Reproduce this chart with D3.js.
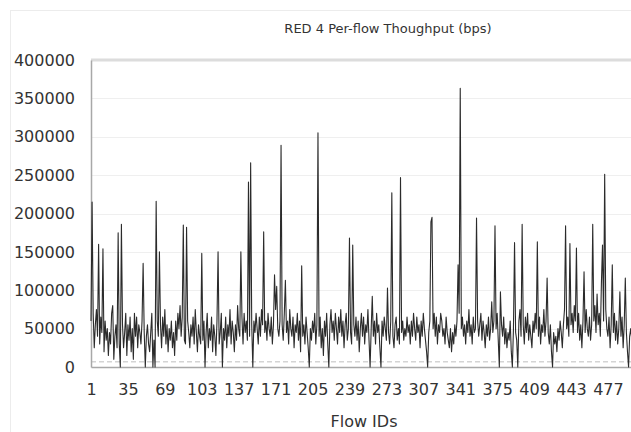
<!DOCTYPE html>
<html><head><meta charset="utf-8">
<script src="https://cdn.jsdelivr.net/npm/d3@7"></script>
<style>
html,body{margin:0;padding:0;background:#fff;}
svg{display:block;font-family:"DejaVu Sans",sans-serif;}
</style></head>
<body>
<svg id="chart" width="631" height="432"></svg>
<script>
const title = "RED 4 Per-flow Thoughput (bps)";
const xAxisTitle = "Flow IDs";
const yTicks = [0,50000,100000,150000,200000,250000,300000,350000,400000];
const xTickLabels = [1,35,69,103,137,171,205,239,273,307,341,375,409,443,477];
const flowCount = 500;
const lowLineValue = 7000;
const throughput = [
60000,215000,70000,25000,55000,75000,40000,160000,30000,65000,45000,154000,20000,60000,35000,50000,15000,45000,30000,70000,80000,10000,40000,55000,25000,
175000,30000,0,186000,55000,25000,45000,70000,15000,55000,35000,65000,20000,50000,10000,70000,40000,65000,25000,55000,45000,30000,60000,135000,45000,
0,40000,55000,30000,20000,45000,70000,0,35000,0,216000,60000,40000,150000,55000,25000,65000,40000,75000,30000,55000,20000,50000,35000,60000,
25000,45000,15000,60000,35000,70000,50000,80000,40000,65000,185000,35000,30000,182000,60000,45000,25000,55000,40000,65000,30000,75000,45000,20000,55000,
40000,30000,148000,35000,60000,0,45000,70000,25000,50000,35000,65000,20000,55000,40000,15000,60000,150000,30000,45000,70000,0,50000,35000,65000,
25000,55000,40000,75000,30000,60000,45000,20000,55000,35000,80000,50000,40000,150000,65000,30000,70000,45000,60000,35000,241000,40000,266000,55000,0,
60000,45000,70000,50000,30000,65000,40000,75000,55000,176000,45000,60000,35000,70000,50000,40000,65000,30000,55000,120000,75000,105000,50000,40000,60000,
289000,55000,35000,70000,113000,45000,60000,30000,75000,50000,40000,65000,25000,55000,45000,70000,35000,60000,20000,132000,40000,55000,30000,65000,45000,
25000,0,50000,35000,60000,45000,70000,30000,55000,305000,40000,65000,25000,50000,15000,60000,40000,70000,30000,0,55000,75000,45000,60000,35000,
70000,50000,30000,65000,45000,75000,40000,60000,25000,55000,70000,35000,50000,168000,45000,30000,159000,55000,40000,65000,35000,60000,20000,50000,70000,
40000,65000,30000,55000,45000,75000,35000,0,50000,92000,40000,60000,30000,70000,45000,55000,25000,0,60000,40000,65000,50000,35000,103000,45000,
30000,60000,227000,40000,25000,55000,65000,35000,50000,30000,247000,45000,60000,35000,50000,40000,65000,45000,55000,30000,60000,40000,70000,50000,35000,
65000,45000,55000,25000,60000,40000,70000,50000,35000,20000,0,45000,60000,189000,195000,50000,70000,40000,65000,30000,55000,45000,70000,60000,40000,
50000,30000,65000,45000,35000,25000,50000,20000,45000,30000,55000,40000,60000,133000,70000,363000,50000,65000,40000,55000,30000,60000,45000,75000,40000,
55000,30000,65000,45000,50000,194000,60000,40000,55000,70000,35000,60000,45000,25000,55000,40000,65000,35000,50000,85000,45000,60000,184000,50000,70000,
35000,0,98000,55000,40000,65000,30000,50000,25000,45000,35000,60000,20000,0,50000,162000,45000,35000,0,60000,75000,40000,186000,55000,30000,
65000,45000,70000,35000,55000,40000,25000,60000,45000,70000,50000,163000,40000,65000,30000,55000,45000,75000,40000,60000,116000,45000,30000,55000,20000,
0,45000,30000,40000,20000,50000,35000,60000,45000,25000,55000,75000,184000,50000,65000,40000,161000,55000,70000,45000,80000,60000,155000,45000,70000,
35000,55000,25000,60000,124000,45000,75000,50000,40000,65000,35000,55000,186000,60000,80000,45000,95000,55000,70000,40000,110000,159000,60000,251000,75000,
50000,40000,65000,25000,55000,133000,45000,70000,35000,60000,30000,50000,98000,40000,65000,25000,55000,116000,45000,20000,0,40000,50000,35000,55000
];
const flows = d3.range(1, flowCount + 1);

const svg = d3.select("#chart");
const W = 631, H = 432;
const plotLeft = 91, plotTop = 60, plotBottom = 367;
const pxPerFlow = 1.086;
const plotRight = plotLeft + (flowCount - 1) * pxPerFlow;

const x = d3.scaleLinear().domain([1, flowCount]).range([plotLeft, plotRight]);
const y = d3.scaleLinear().domain([0, 400000]).range([plotBottom, plotTop]);

// chart area border
svg.append("rect").attr("x", 10.5).attr("y", 10.5).attr("width", W + 20).attr("height", H + 20)
  .attr("fill", "none").attr("stroke", "#ececec");

// title
svg.append("text").attr("x", 388).attr("y", 33).attr("text-anchor", "middle")
  .attr("font-size", 13).attr("fill", "#333").text(title);

// gridlines
svg.append("g").selectAll("line").data(yTicks.filter(d => d > 0 && d < 400000)).join("line")
  .attr("x1", plotLeft).attr("x2", W).attr("y1", d => Math.round(y(d)) + 0.5).attr("y2", d => Math.round(y(d)) + 0.5)
  .attr("stroke", "#efefef");
svg.append("line").attr("x1", plotLeft).attr("x2", W).attr("y1", y(400000)).attr("y2", y(400000))
  .attr("stroke", "#dcdcdc").attr("stroke-width", 3);

// low dashed line
svg.append("line").attr("x1", plotLeft).attr("x2", W)
  .attr("y1", y(lowLineValue)).attr("y2", y(lowLineValue))
  .attr("stroke", "#d4d4d4").attr("stroke-width", 1.5).attr("stroke-dasharray", "5,3");

// y axis
const yAxis = d3.axisLeft(y).tickValues(yTicks).tickSize(0).tickPadding(16).tickFormat(d3.format("d"));
const gy = svg.append("g").attr("transform", `translate(${plotLeft},0)`).call(yAxis);
gy.select(".domain").attr("stroke", "#a8a8a8").attr("stroke-width", 1.5);
gy.selectAll("text").attr("font-size", 16).attr("fill", "#333").attr("font-family", "DejaVu Sans");

// x axis
const xAxis = d3.axisBottom(x).tickValues(xTickLabels).tickSize(0).tickPadding(17).tickFormat(d3.format("d"));
const gx = svg.append("g").attr("transform", `translate(0,${plotBottom})`).call(xAxis);
gx.select(".domain").attr("stroke", "#a8a8a8").attr("stroke-width", 1.5);
gx.selectAll("text").attr("font-size", 16).attr("fill", "#333").attr("font-family", "DejaVu Sans");

// x axis title
svg.append("text").attr("x", 364).attr("y", 427).attr("text-anchor", "middle")
  .attr("font-size", 16).attr("fill", "#333").text(xAxisTitle);

// data line
const line = d3.line().x((d, i) => x(flows[i])).y(d => y(d));
svg.append("path").datum(throughput).attr("d", line)
  .attr("fill", "none").attr("stroke", "#2b2b2b").attr("stroke-width", 1.1).attr("stroke-linejoin", "round");
</script>
</body></html>
